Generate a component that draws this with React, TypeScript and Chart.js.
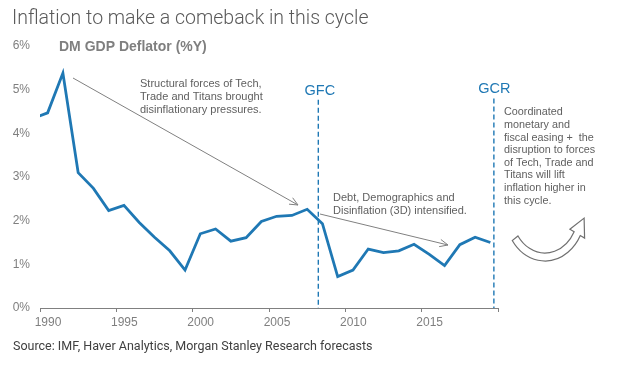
import React, { useEffect, useRef } from "react";
import { Chart, registerables } from "chart.js";

Chart.register(...registerables);

const years = [1989, 1990, 1991, 1992, 1993, 1994, 1995, 1996, 1997, 1998, 1999, 2000, 2001, 2002, 2003, 2004, 2005, 2006, 2007, 2008, 2009, 2010, 2011, 2012, 2013, 2014, 2015, 2016, 2017, 2018, 2019];
const deflator = [4.33, 4.47, 5.38, 3.10, 2.74, 2.23, 2.35, 1.96, 1.62, 1.31, 0.87, 1.70, 1.81, 1.53, 1.61, 1.98, 2.10, 2.12, 2.26, 1.93, 0.72, 0.87, 1.35, 1.27, 1.31, 1.46, 1.23, 0.97, 1.45, 1.62, 1.50];
const xTicks = [1990, 1995, 2000, 2005, 2010, 2015];
const events = ["GFC", "GCR"];
const eventYears = [2008.23, 2019.73];

const title = "Inflation to make a comeback in this cycle";
const subtitle = "DM GDP Deflator (%Y)";
const note1 = ["Structural forces of Tech,", "Trade and Titans brought", "disinflationary pressures."];
const note2 = ["Debt, Demographics and", "Disinflation (3D) intensified."];
const note3 = ["Coordinated", "monetary and", "fiscal easing +  the", "disruption to forces", "of Tech, Trade and", "Titans will lift", "inflation higher in", "this cycle."];
const source = "Source: IMF, Haver Analytics, Morgan Stanley Research forecasts";

const BLUE = "#1f78b4";
const GREY = "#7f7f7f";
const TXT = "#5f5f5f";

function arrow(ctx: CanvasRenderingContext2D, x1: number, y1: number, x2: number, y2: number) {
  ctx.save();
  ctx.strokeStyle = "#808080";
  ctx.lineWidth = 1;
  ctx.beginPath();
  ctx.moveTo(x1, y1);
  ctx.lineTo(x2, y2);
  ctx.stroke();
  const a = Math.atan2(y2 - y1, x2 - x1);
  const L = 9;
  const s = 0.42;
  ctx.beginPath();
  ctx.moveTo(x2 - L * Math.cos(a - s), y2 - L * Math.sin(a - s));
  ctx.lineTo(x2, y2);
  ctx.lineTo(x2 - L * Math.cos(a + s), y2 - L * Math.sin(a + s));
  ctx.stroke();
  ctx.restore();
}

function curvedArrow(ctx: CanvasRenderingContext2D) {
  const cx = 545, cy = 213;
  const a0 = (145 * Math.PI) / 180;
  const a1 = (28 * Math.PI) / 180;
  const ro = { x: 40, y: 48 };
  const ri = { x: 33, y: 40 };
  ctx.save();
  ctx.fillStyle = "#ffffff";
  ctx.strokeStyle = "#707070";
  ctx.lineWidth = 1.2;
  ctx.beginPath();
  ctx.ellipse(cx, cy, ro.x, ro.y, 0, a0, a1, true);
  const ox = cx + ro.x * Math.cos(a1), oy = cy + ro.y * Math.sin(a1);
  const ix = cx + ri.x * Math.cos(a1), iy = cy + ri.y * Math.sin(a1);
  const tx = Math.sin(a1) * ro.x, ty = -Math.cos(a1) * ro.y;
  const tl = Math.hypot(tx, ty);
  const ux = tx / tl, uy = ty / tl;
  const nx = ox - ix, ny = oy - iy;
  const nl = Math.hypot(nx, ny);
  const px = nx / nl, py = ny / nl;
  const mx = (ox + ix) / 2, my = (oy + iy) / 2;
  ctx.lineTo(ox + px * 5, oy + py * 5);
  ctx.lineTo(mx + ux * 17, my + uy * 17);
  ctx.lineTo(ix - px * 5, iy - py * 5);
  ctx.lineTo(ix, iy);
  ctx.ellipse(cx, cy, ri.x, ri.y, 0, a1, a0, false);
  ctx.closePath();
  ctx.fill();
  ctx.stroke();
  ctx.restore();
}

const overlay = {
  id: "overlay",
  afterDraw(chart: any) {
    const ctx = chart.ctx as CanvasRenderingContext2D;
    const xs = chart.scales.x;
    const ys = chart.scales.y;
    const bottom = chart.chartArea.bottom;
    ctx.save();
    ctx.textBaseline = "middle";
    ctx.textAlign = "left";
    ctx.fillStyle = "#595959";
    ctx.font = "300 19.5px Roboto";
    ctx.fillText(title, 12, 19);
    ctx.fillStyle = GREY;
    ctx.font = "bold 14px 'Liberation Sans', Arial";
    ctx.fillText(subtitle, 59, 47);

    const tops = [4.77, 4.8];
    events.forEach((name, i) => {
      const x = xs.getPixelForValue(eventYears[i]);
      ctx.save();
      ctx.strokeStyle = BLUE;
      ctx.lineWidth = 1.4;
      ctx.setLineDash([5, 3]);
      ctx.beginPath();
      ctx.moveTo(x, ys.getPixelForValue(tops[i]));
      ctx.lineTo(x, bottom);
      ctx.stroke();
      ctx.restore();
      ctx.fillStyle = BLUE;
      ctx.font = "14.5px 'Liberation Sans', Arial";
      ctx.textAlign = "center";
      ctx.fillText(name, x + (i === 0 ? 1.5 : 0.5), ys.getPixelForValue(tops[i]) - 9);
    });

    ctx.textAlign = "left";
    ctx.fillStyle = TXT;
    ctx.font = "11px 'Liberation Sans', Arial";
    note1.forEach((t, i) => ctx.fillText(t, 140, 83.5 + i * 13));
    note2.forEach((t, i) => ctx.fillText(t, 333, 198 + i * 12.5));
    ctx.font = "10.8px 'Liberation Sans', Arial";
    note3.forEach((t, i) => ctx.fillText(t, 504, 112.5 + i * 12.6));

    arrow(ctx, 73, 78, 298, 205);
    arrow(ctx, 320, 214, 448, 245);
    curvedArrow(ctx);

    ctx.fillStyle = "#404040";
    ctx.font = "12.5px Roboto";
    ctx.textAlign = "left";
    ctx.fillText(source, 13, 347);
    ctx.restore();
  },
};

export default function App() {
  const ref = useRef<HTMLCanvasElement>(null);
  useEffect(() => {
    document.body.style.margin = "0";
    const chart = new Chart(ref.current!, {
      type: "line",
      data: {
        datasets: [
          {
            label: subtitle,
            data: years.map((y, i) => ({ x: y + 0.5, y: deflator[i] })),
            borderColor: BLUE,
            borderWidth: 2.8,
            pointRadius: 0,
            tension: 0,
            fill: false,
          },
        ],
      },
      options: {
        responsive: false,
        animation: false,
        layout: { padding: { top: 46, right: 124, left: 0, bottom: 0 } },
        plugins: { legend: { display: false }, tooltip: { enabled: false } },
        scales: {
          x: {
            type: "linear",
            min: 1990,
            max: 2020,
            afterFit: (s: any) => { s.height = 76; },
            afterBuildTicks: (s: any) => {
              s.ticks = [...xTicks, 2020].map((v) => ({ value: v }));
            },
            ticks: {
              callback: (v: any) => (xTicks.includes(Number(v)) ? String(v) : ""),
              color: GREY,
              font: { family: "'Liberation Sans', Arial", size: 12 },
              labelOffset: 8,
              padding: 3,
              maxRotation: 0,
              autoSkip: false,
            },
            grid: { drawOnChartArea: false, drawTicks: true, tickLength: 4, color: "#808080" },
            border: { display: true, color: "#808080", width: 1 },
          },
          y: {
            min: 0,
            max: 6,
            afterFit: (s: any) => { s.width = 40; },
            ticks: {
              stepSize: 1,
              callback: (v: any) => v + "%",
              color: GREY,
              font: { family: "'Liberation Sans', Arial", size: 12 },
              padding: 10,
            },
            grid: { display: false, drawTicks: false },
            border: { display: false },
          },
        },
      },
      plugins: [overlay],
    });
    return () => chart.destroy();
  }, []);
  return (
    <div style={{ position: "absolute", left: 0, top: 0, width: 622, height: 384, background: "#fff" }}>
      <canvas ref={ref} width={622} height={384} style={{ width: 622, height: 384 }} />
    </div>
  );
}
